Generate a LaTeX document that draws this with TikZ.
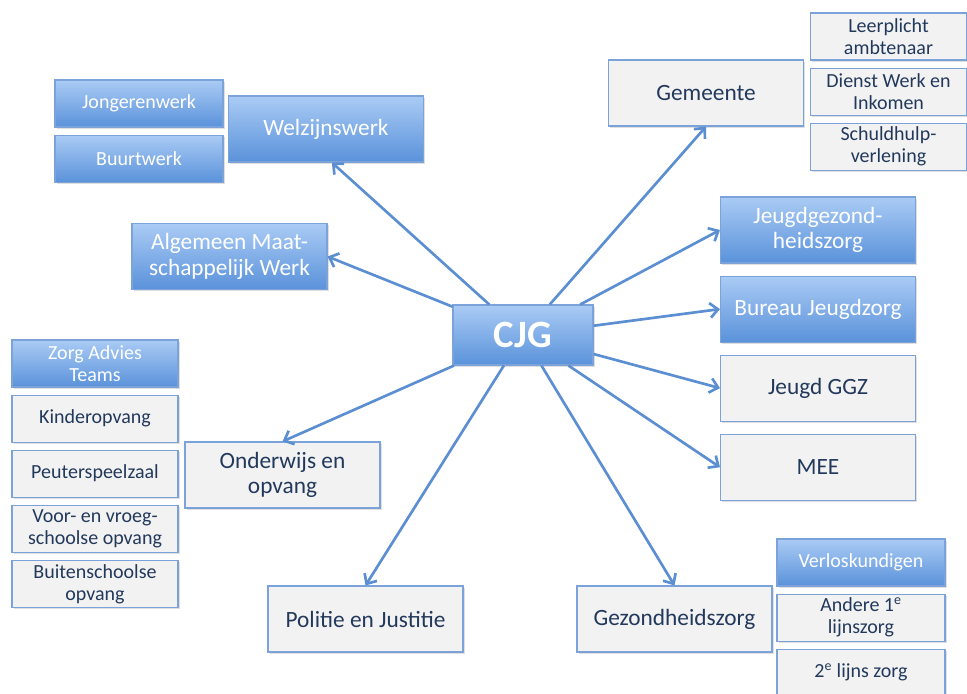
\documentclass[tikz,border=0pt]{standalone}
\usepackage{fontspec}
\setmainfont{Carlito}
\usepackage{tikz}
\usetikzlibrary{positioning,arrows.meta,shadows}

\definecolor{boxline}{HTML}{7BA3D9}
\definecolor{bluetop}{HTML}{AACBF5}
\definecolor{bluebot}{HTML}{5A92DA}
\definecolor{greyfill}{HTML}{F2F2F2}
\definecolor{navytext}{HTML}{22395C}
\definecolor{arrowblue}{HTML}{5B8FD2}

\begin{document}
\begin{tikzpicture}[x=0.75pt,y=-0.75pt,node distance=5.25pt,
                    box/.style={rectangle,draw=boxline,line width=0.8pt,align=center,inner sep=2pt,
                      drop shadow={shadow xshift=1.2pt,shadow yshift=-1.2pt,opacity=0.25}},
                    blue node/.style={box,top color=bluetop,bottom color=bluebot,text=white},
                    grey node/.style={box,fill=greyfill,text=navytext},
                    big/.style={minimum width=146.25pt,minimum height=49.5pt,
                      font=\fontsize{17.5}{19}\selectfont},
                    small/.style={minimum width=124.5pt,minimum height=35.25pt,
                      font=\fontsize{15}{16.5}\selectfont},
                    link/.style={draw=arrowblue,line width=2pt,-{Straight Barb[length=6pt,width=11pt]}}]

       \useasboundingbox (0,0) rectangle (967,693);

       % centre
       \node[blue node,minimum width=105pt,minimum height=45pt,
             font=\fontsize{29}{32}\selectfont\bfseries] (cjg) at (523,335) {CJG};

       % left top
       \node[blue node,big] (welzijn) at (326,129) {Welzijnswerk};
       \node[blue node,small,minimum width=126pt] (jongeren) at (139,103.5) {Jongerenwerk};
       \node[blue node,small,minimum width=126pt] (buurt) [below=of jongeren] {Buurtwerk};
       \node[blue node,big] (amw) at (229.5,256.5) {Algemeen Maat-\\schappelijk Werk};

       % right top
       \node[grey node,big] (gemeente) at (706,93) {Gemeente};
       \node[grey node,small,minimum width=116.5pt] (leerplicht) at (888.5,36.5) {Leerplicht\\ambtenaar};
       \node[grey node,small,minimum width=116.5pt] (dienst) [below=of leerplicht] {Dienst Werk en\\Inkomen};
       \node[grey node,small,minimum width=116.5pt] (schuld) [below=of dienst] {Schuldhulp-\\verlening};

       % right
       \node[blue node,big] (jgz) at (818,230) {Jeugdgezond-\\heidszorg};
       \node[blue node,big] (bjz) [below=9pt of jgz] {Bureau Jeugdzorg};
       \node[grey node,big] (ggz) [below=9pt of bjz] {Jeugd GGZ};
       \node[grey node,big] (mee) [below=9pt of ggz] {MEE};

       % left
       \node[grey node,big] (onderwijs) at (282.5,475) {Onderwijs en\\opvang};
       \node[blue node,small] (zat) at (95,363.5) {Zorg Advies\\Teams};
       \node[grey node,small] (kinder) [below=of zat] {Kinderopvang};
       \node[grey node,small] (peuter) [below=of kinder] {Peuterspeelzaal};
       \node[grey node,small] (vve) [below=of peuter] {Voor- en vroeg-\\schoolse opvang};
       \node[grey node,small] (bso) [below=of vve] {Buitenschoolse\\opvang};

       % bottom
       \node[grey node,big] (politie) at (365.5,619) {Politie en Justitie};
       \node[grey node,big] (gezond) at (674.5,619) {Gezondheidszorg};
       \node[blue node,small,minimum width=126pt] (verlos) at (861,562.5) {Verloskundigen};
       \node[grey node,small,minimum width=126pt] (eerste) [below=of verlos] {Andere 1\textsuperscript{e}\\lijnszorg};
       \node[grey node,small,minimum width=126pt] (tweede) [below=of eerste] {2\textsuperscript{e} lijns zorg};

       \path[link]
         (cjg) edge (welzijn.-80)
               edge (amw.east)
               edge (gemeente.south)
               edge (jgz.west)
               edge (bjz.west)
               edge (ggz.west)
               edge (mee.west)
               edge (onderwijs.north)
               edge (politie.north)
               edge (gezond.north);
     \end{tikzpicture}
\end{document}
